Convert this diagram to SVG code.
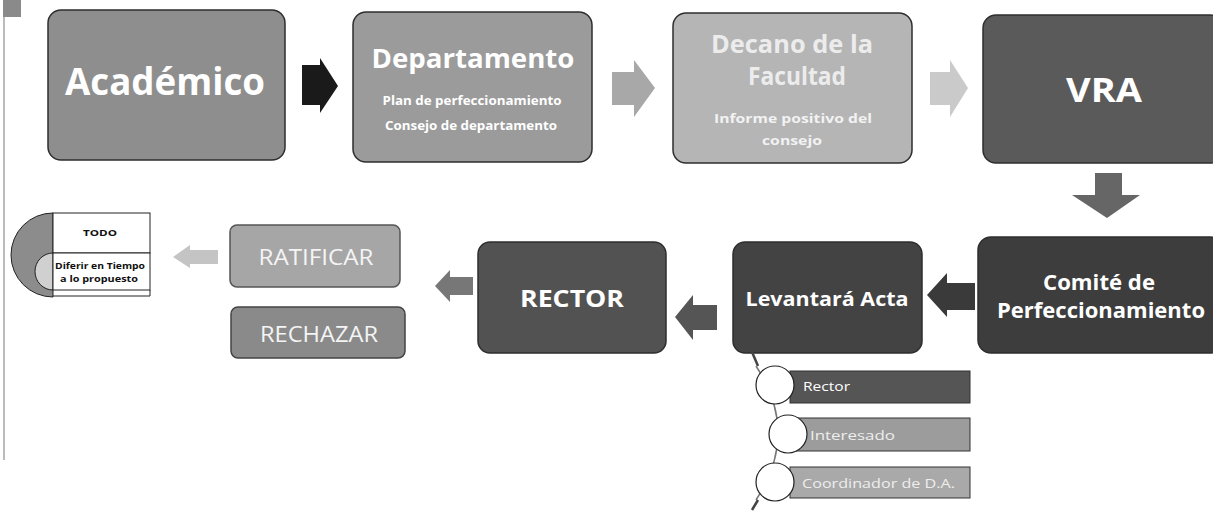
<svg xmlns="http://www.w3.org/2000/svg" width="1213" height="513" viewBox="0 0 1213 513">
<style>
.box{stroke:#2e2e2e;stroke-width:1.5}
.t{font-family:"Open Sans",Lato,sans-serif;font-weight:bold;fill:#fff;text-anchor:middle}
.n{font-family:"Open Sans",Lato,sans-serif;fill:#f4f4f4;text-anchor:middle}
.s{font-family:"Open Sans",Lato,sans-serif;fill:#fff;font-size:12.5px}
.k{font-family:"Open Sans",Lato,sans-serif;font-weight:bold;fill:#111;text-anchor:middle;font-size:8.5px}
</style>
<rect width="1213" height="513" fill="#fff"/>
<rect x="3" y="0" width="18" height="17" fill="#8a8a8a"/>
<line x1="4" y1="17" x2="4" y2="460" stroke="#bbb" stroke-width="2"/>

<g id="academico">
<rect class="box" x="48" y="10" width="237" height="150" rx="13" fill="#8e8e8e"/>
<text class="t" x="165" y="95" font-size="37" textLength="200" lengthAdjust="spacingAndGlyphs">Académico</text>
</g>
<g id="departamento">
<rect class="box" x="353" y="12" width="239" height="150" rx="13" fill="#9b9b9b"/>
<text class="t" x="473" y="68" font-size="27" textLength="203" lengthAdjust="spacingAndGlyphs">Departamento</text>
<text class="t" x="472" y="105" font-size="13" textLength="179" lengthAdjust="spacingAndGlyphs">Plan de perfeccionamiento</text>
<text class="t" x="471" y="130" font-size="13" textLength="172" lengthAdjust="spacingAndGlyphs">Consejo de departamento</text>
</g>
<g id="decano">
<rect class="box" x="673" y="13" width="239" height="150" rx="13" fill="#b5b5b5"/>
<text class="t" x="792" y="53" font-size="25" textLength="162" lengthAdjust="spacingAndGlyphs" style="fill:#ececec">Decano de la</text>
<text class="t" x="797" y="85" font-size="25" textLength="98" lengthAdjust="spacingAndGlyphs" style="fill:#ececec">Facultad</text>
<text class="t" x="793" y="123" font-size="13" textLength="158" lengthAdjust="spacingAndGlyphs" style="fill:#f2f2f2">Informe positivo del</text>
<text class="t" x="792" y="145" font-size="13" textLength="60" lengthAdjust="spacingAndGlyphs" style="fill:#f2f2f2">consejo</text>
</g>
<g id="vra">
<rect class="box" x="983" y="15" width="240" height="148" rx="13" fill="#5a5a5a"/>
<text class="t" x="1104" y="102" font-size="34" textLength="76" lengthAdjust="spacingAndGlyphs">VRA</text>
</g>
<g id="comite">
<rect class="box" x="978" y="237" width="245" height="116" rx="13" fill="#3d3d3d"/>
<text class="t" x="1099" y="290" font-size="21" textLength="112" lengthAdjust="spacingAndGlyphs">Comité de</text>
<text class="t" x="1101" y="318" font-size="21" textLength="208" lengthAdjust="spacingAndGlyphs">Perfeccionamiento</text>
</g>
<g id="levantara">
<rect class="box" x="733" y="242" width="189" height="111" rx="12" fill="#434343"/>
<text class="t" x="827" y="306" font-size="20" textLength="163" lengthAdjust="spacingAndGlyphs">Levantará Acta</text>
</g>
<g id="rector">
<rect class="box" x="478" y="242" width="188" height="111" rx="12" fill="#525252"/>
<text class="t" x="572" y="307" font-size="24" textLength="104" lengthAdjust="spacingAndGlyphs">RECTOR</text>
</g>
<g id="ratificar">
<rect class="box" x="230" y="225" width="170" height="62" rx="7" fill="#a6a6a6" style="stroke:#555"/>
<text class="n" x="316" y="265" font-size="21" textLength="115" lengthAdjust="spacingAndGlyphs">RATIFICAR</text>
</g>
<g id="rechazar">
<rect class="box" x="231" y="307" width="174" height="51" rx="7" fill="#8a8a8a" style="stroke:#444"/>
<text class="n" x="319" y="342" font-size="21" textLength="118" lengthAdjust="spacingAndGlyphs">RECHAZAR</text>
</g>
<g id="todo">
<path d="M53 213 A42 42 0 0 0 53 297 Z" fill="#8c8c8c" stroke="#222" stroke-width="1"/>
<path d="M53 253 A18 18.5 0 0 0 53 290 Z" fill="#d0d0d0" stroke="#222" stroke-width="1"/>
<rect x="53" y="213" width="97" height="40" fill="#fff" stroke="#222" stroke-width="1"/>
<rect x="53" y="253" width="97" height="37" fill="#fff" stroke="#222" stroke-width="1"/>
<line x1="53" y1="296" x2="150" y2="296" stroke="#222" stroke-width="1"/>
<line x1="150" y1="290" x2="150" y2="296" stroke="#222" stroke-width="1"/>
<text class="k" x="100" y="236" textLength="34" lengthAdjust="spacingAndGlyphs">TODO</text>
<text class="k" x="100" y="269" textLength="90" lengthAdjust="spacingAndGlyphs">Diferir en Tiempo</text>
<text class="k" x="99" y="282" textLength="78" lengthAdjust="spacingAndGlyphs">a lo propuesto</text>
</g>
<g id="lista">
<path d="M752 352 L758 366" stroke="#444" stroke-width="2.5" fill="none"/>
<path d="M756 366 Q800 433 756 500" stroke="#777" stroke-width="1.5" fill="none"/>
<path d="M758 500 L752 510" stroke="#444" stroke-width="2.5" fill="none"/>
<rect x="790" y="371" width="180" height="32" fill="#555" stroke="#333"/>
<rect x="790" y="418" width="180" height="33" fill="#9c9c9c" stroke="#333"/>
<rect x="790" y="467" width="180" height="31" fill="#a9a9a9" stroke="#333"/>
<circle cx="775" cy="385" r="19" fill="#fff" stroke="#222" stroke-width="1.2"/>
<circle cx="788" cy="434" r="19" fill="#fff" stroke="#222" stroke-width="1.2"/>
<circle cx="775" cy="482" r="19" fill="#fff" stroke="#222" stroke-width="1.2"/>
<text class="s" x="803" y="391" textLength="47" lengthAdjust="spacingAndGlyphs">Rector</text>
<text class="s" x="810" y="440" textLength="85" lengthAdjust="spacingAndGlyphs" style="fill:#eee">Interesado</text>
<text class="s" x="802" y="488" textLength="153" lengthAdjust="spacingAndGlyphs" style="fill:#eee">Coordinador de D.A.</text>
</g>

<g id="connectors">
<path d="M302 65 H320 V58 L338 86 L320 113 V105 H302 Z" fill="#1a1a1a"/>
<path d="M612 72 H634 V60 L655 88 L634 117 V105 H612 Z" fill="#a8a8a8"/>
<path d="M930 72 H950 V60 L968 88 L950 117 V105 H930 Z" fill="#cacaca"/>
<path d="M1095 173 H1122 V195 H1140 L1107 218 L1072 195 H1095 Z" fill="#666"/>
<path d="M975 283 V310 H947 V317 L927 295 L947 273 V283 Z" fill="#3a3a3a"/>
<path d="M717 305 V330 H693 V340 L675 317 L693 295 V305 Z" fill="#555"/>
<path d="M473 277 V295 H450 V302 L435 286 L450 270 V277 Z" fill="#777"/>
<path d="M218 250 V264 H190 V268 L173 257 L190 245 V250 Z" fill="#c4c4c4"/>
</g>
</svg>
